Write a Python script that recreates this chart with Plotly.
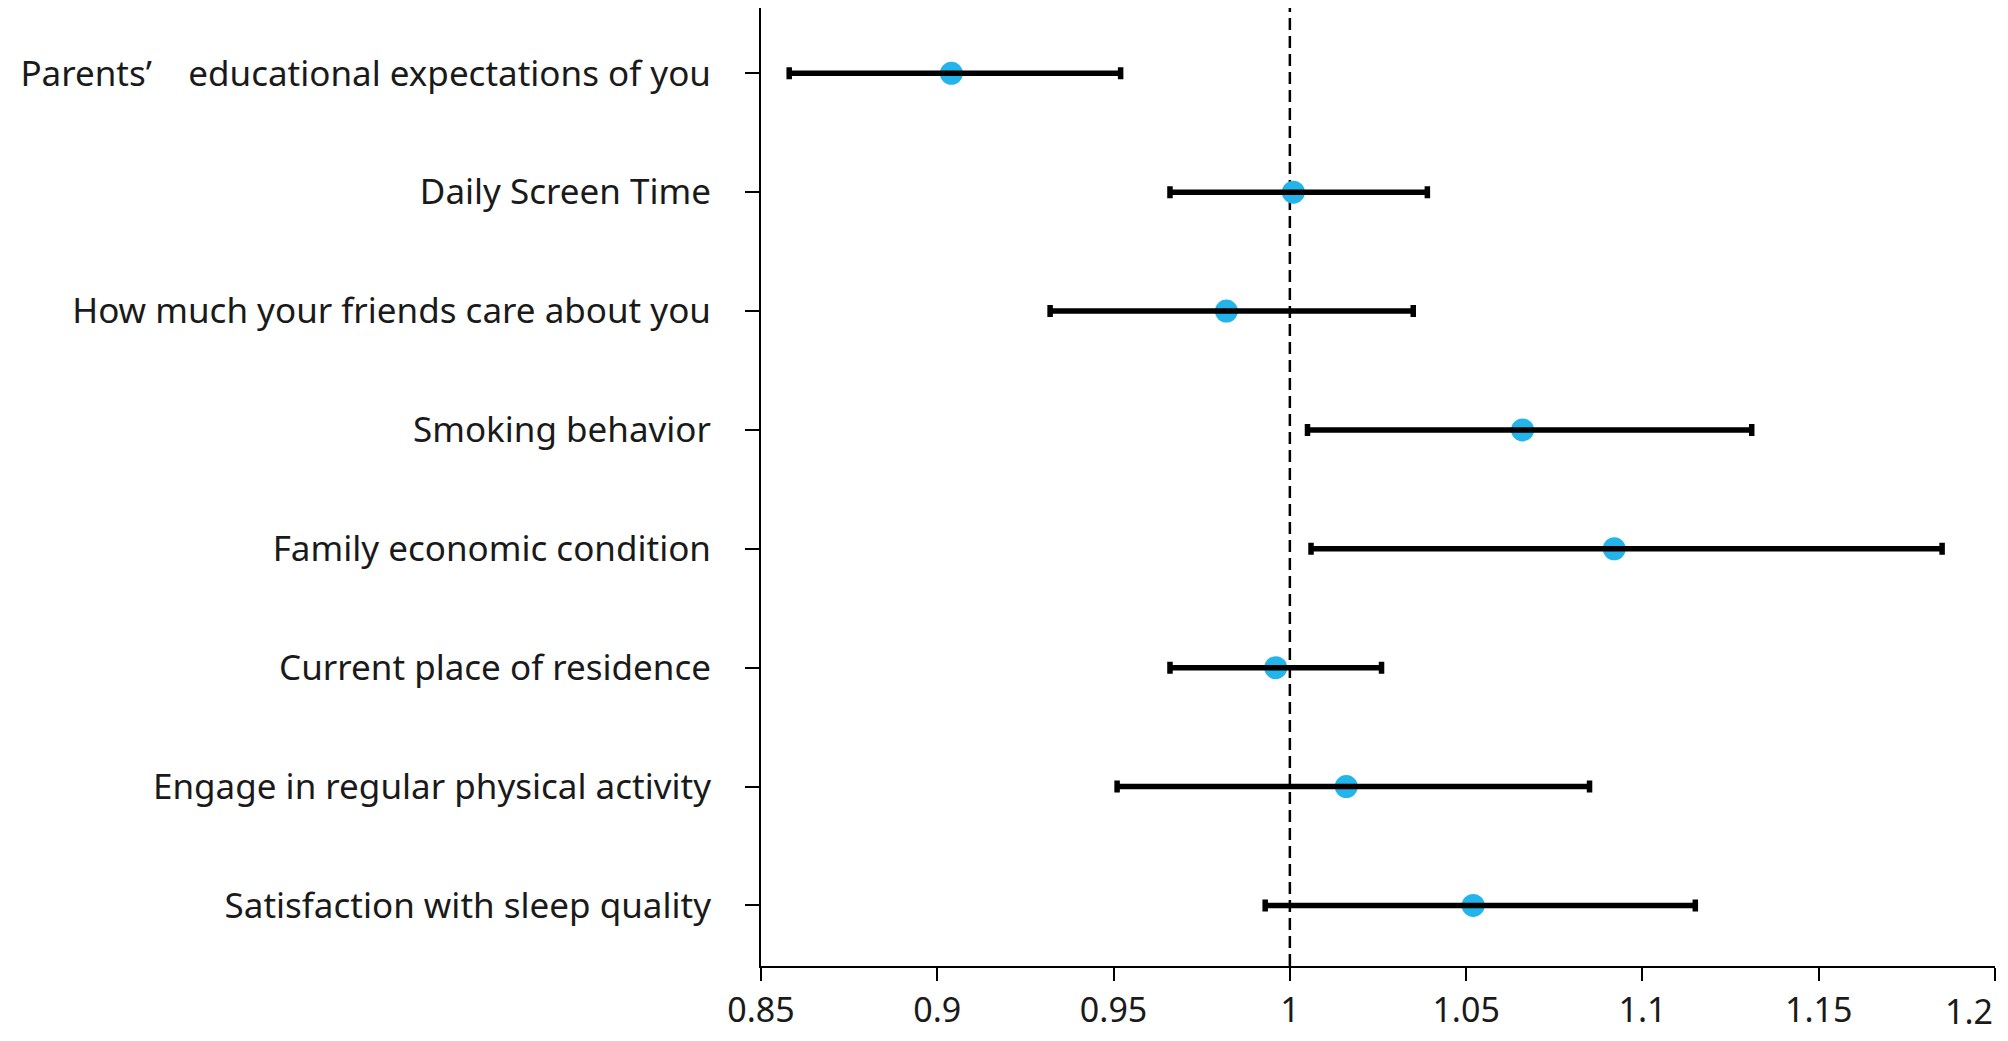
import plotly.graph_objects as go

categories = [
    "Parents’\u00a0\u00a0\u00a0\u00a0educational expectations of you",
    "Daily Screen Time",
    "How much your friends care about you",
    "Smoking behavior",
    "Family economic condition",
    "Current place of residence",
    "Engage in regular physical activity",
    "Satisfaction with sleep quality",
]
estimate = [0.904, 1.001, 0.982, 1.066, 1.092, 0.996, 1.016, 1.052]
lower = [0.858, 0.966, 0.932, 1.005, 1.006, 0.966, 0.951, 0.993]
upper = [0.952, 1.039, 1.035, 1.131, 1.185, 1.026, 1.085, 1.115]
x_ticks = [0.85, 0.9, 0.95, 1, 1.05, 1.1, 1.15, 1.2]
x_tick_text = ["0.85", "0.9", "0.95", "1", "1.05", "1.1", "1.15", "1.2"]

n = len(categories)
ypos = [n - i for i in range(n)]
err_plus = [u - e for u, e in zip(upper, estimate)]
err_minus = [e - l for e, l in zip(estimate, lower)]

fig = go.Figure()
fig.add_trace(go.Scatter(
    x=estimate, y=ypos, mode="markers",
    marker=dict(size=23, color="#22B4EA"),
    showlegend=False, hoverinfo="x+y",
))
fig.add_trace(go.Scatter(
    x=estimate, y=ypos, mode="markers",
    marker=dict(size=23, color="rgba(0,0,0,0)"),
    error_x=dict(type="data", symmetric=False, array=err_plus, arrayminus=err_minus,
                 color="black", thickness=5.5, width=6),
    showlegend=False, hoverinfo="skip",
))

fig.add_shape(type="line", xref="x", yref="paper", x0=1, x1=1, y0=0, y1=1,
              line=dict(color="black", width=2.5, dash="12px,6px"), layer="below")

font_family = "Noto Sans"
tick_font = dict(size=34, family=font_family, color="#1a1a1a")

# the last x tick label sits flush-right against the axis end, as in the reference
shown_text = x_tick_text[:-1] + [""]
fig.add_annotation(x=x_ticks[-1], xref="x", y=0, yref="paper",
                   text=x_tick_text[-1], showarrow=False,
                   xanchor="right", yanchor="middle", yshift=-45,
                   font=tick_font)

fig.update_layout(
    width=2000, height=1033,
    margin=dict(l=753, r=13, t=0, b=75, autoexpand=False),
    paper_bgcolor="white", plot_bgcolor="white",
    font=dict(family=font_family, color="#1a1a1a"),
)
fig.update_xaxes(
    range=[0.85, 1.2], tickvals=x_ticks, ticktext=shown_text,
    showline=True, linecolor="black", linewidth=2, mirror=False,
    ticks="outside", ticklen=13, tickwidth=2, tickcolor="black",
    showgrid=False, zeroline=False, automargin=False,
    tickfont=tick_font,
)
fig.update_yaxes(
    range=[0.49, 8.55], tickvals=ypos, ticktext=categories,
    showline=True, linecolor="black", linewidth=2,
    ticks="outside", ticklen=14, tickwidth=2, tickcolor="black",
    showgrid=False, zeroline=False, ticklabelstandoff=27, automargin=False,
    tickfont=dict(size=35, family=font_family, color="#1a1a1a"),
)

fig.write_html("out.html")
